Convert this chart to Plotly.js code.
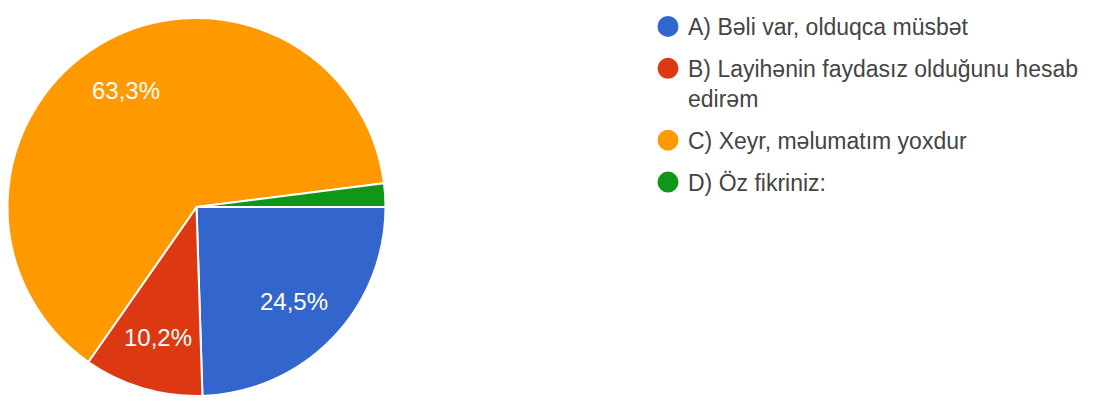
<!DOCTYPE html>
<html>
<head>
<meta charset="utf-8">
<script src="https://cdn.plot.ly/plotly-3.0.1.min.js"></script>
<style>html,body{margin:0;padding:0;background:#fff;}#chart{width:1115px;height:401px;}</style>
</head>
<body>
<div id="chart"></div>
<script>
const categories = [
  "A) Bəli var, olduqca müsbət",
  "B) Layihənin faydasız olduğunu hesab<br>edirəm",
  "C) Xeyr, məlumatım yoxdur",
  "D) Öz fikriniz:"
];
const values = [24.5, 10.2, 63.3, 2.0];
const sliceLabels = ["24,5%", "10,2%", "63,3%", ""];
const colors = ["#3366CC", "#DC3912", "#FF9900", "#109618"];

const W = 1115, H = 401;
const CX = 196.5, CY = 207, R = 189;   // pie placement (px)
const LABEL_FRAC = 0.72;               // label distance as fraction of radius

const pie = {
  type: "pie",
  values: values,
  labels: categories,
  textinfo: "none",
  sort: false,
  direction: "clockwise",
  rotation: 90,
  marker: {colors: colors, line: {color: "#ffffff", width: 2}},
  showlegend: false,
  hoverinfo: "none",
  domain: {x: [(CX - R) / W, (CX + R) / W], y: [(H - CY - R) / H, (H - CY + R) / H]}
};

// slice labels placed at mid-angle of each slice, computed from the values
const total = values.reduce((a, b) => a + b, 0);
const annotations = [];
let cum = 0;
values.forEach((v, i) => {
  const mid = (cum + v / 2) / total * 2 * Math.PI; // clockwise from 3 o'clock
  cum += v;
  if (!sliceLabels[i]) return;
  const px = CX + Math.cos(mid) * R * LABEL_FRAC;
  const py = CY + Math.sin(mid) * R * LABEL_FRAC;
  annotations.push({
    xref: "paper", yref: "paper",
    x: px / W, y: 1 - py / H,
    xanchor: "center", yanchor: "middle",
    text: sliceLabels[i], showarrow: false,
    font: {family: "Liberation Sans, Arial, sans-serif", size: 24, color: "#ffffff"}
  });
});

const legendTraces = categories.map((c, i) => ({
  type: "scatter",
  mode: "markers",
  x: [null], y: [null],
  name: c,
  legendgroup: "g" + i,
  marker: {symbol: "circle", size: 16, color: colors[i], line: {color: colors[i], width: 5}},
  hoverinfo: "none"
}));

const layout = {
  width: W, height: H,
  margin: {l: 0, r: 0, t: 0, b: 0},
  paper_bgcolor: "#ffffff",
  plot_bgcolor: "#ffffff",
  xaxis: {visible: false},
  yaxis: {visible: false},
  showlegend: true,
  annotations: annotations,
  legend: {
    x: 648 / W, xanchor: "left",
    y: 1 - 5 / H, yanchor: "top",
    valign: "top",
    traceorder: "grouped",
    tracegroupgap: 9,
    font: {family: "Liberation Sans, Arial, sans-serif", size: 23, color: "#444444"},
    bgcolor: "rgba(0,0,0,0)"
  }
};

Plotly.newPlot("chart", [pie].concat(legendTraces), layout, {staticPlot: true});
</script>
</body>
</html>
